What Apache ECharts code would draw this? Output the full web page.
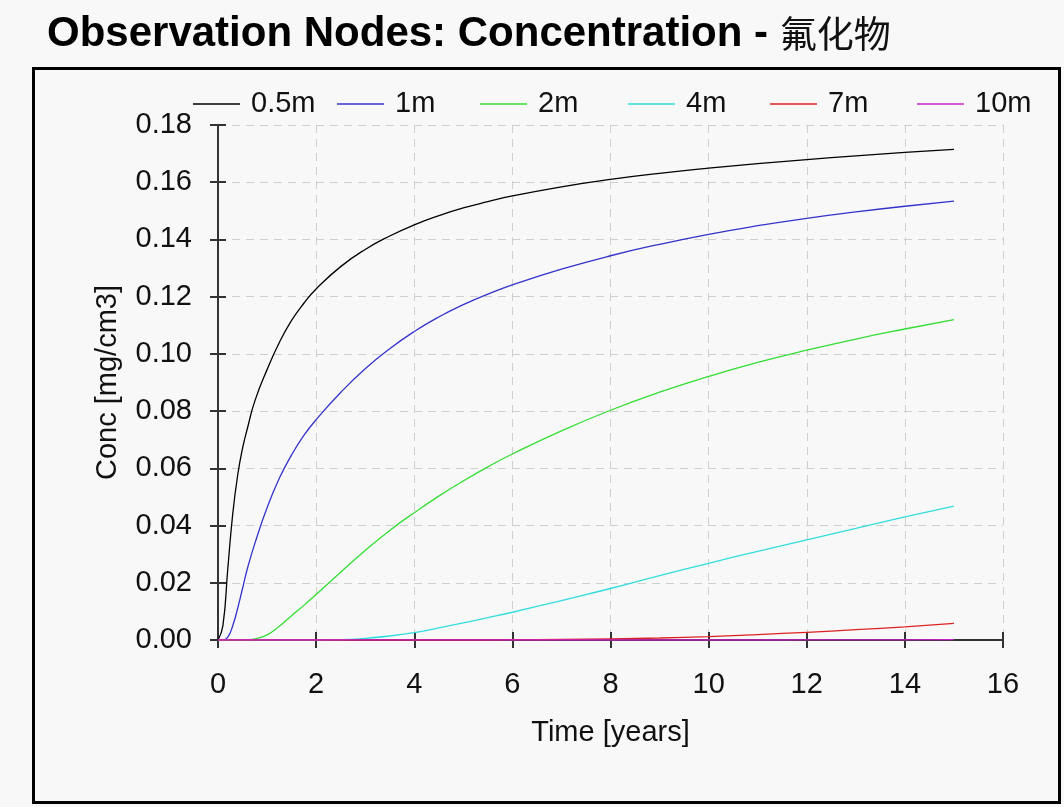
<!DOCTYPE html>
<html>
<head>
<meta charset="utf-8">
<script src="https://cdn.jsdelivr.net/npm/echarts@6/dist/echarts.min.js"></script>
<style>
  html, body { margin: 0; padding: 0; background: #f8f8f8; }
  #chart { width: 1064px; height: 807px; }
</style>
</head>
<body>
<div id="chart"></div>
<script>
// Time axis samples (years)
const times = [0, 0.1, 0.2, 0.3, 0.4, 0.5, 0.6, 0.75, 1, 1.25, 1.5, 1.75, 2, 2.5, 3, 3.5, 4, 4.5, 5, 5.5, 6, 7, 8, 9, 10, 11, 12, 13, 14, 15];

// Concentration at each observation node depth (mg/cm3)
const node05m = [0, 0.005, 0.025, 0.044, 0.0575, 0.067, 0.074, 0.0835, 0.0945, 0.104, 0.1117, 0.1177, 0.1227, 0.1305, 0.1365, 0.1412, 0.1451, 0.1483, 0.151, 0.1532, 0.1552, 0.1584, 0.161, 0.1631, 0.1649, 0.1665, 0.1679, 0.1692, 0.1704, 0.1715];
const node1m  = [0, 0, 0.001, 0.005, 0.011, 0.018, 0.025, 0.0337, 0.0462, 0.0565, 0.0647, 0.0715, 0.077, 0.0865, 0.0948, 0.1018, 0.1078, 0.1129, 0.1172, 0.1209, 0.1241, 0.1296, 0.1343, 0.1383, 0.1418, 0.1448, 0.1474, 0.1496, 0.1516, 0.1534];
const node2m  = [0, 0, 0, 0, 0, 0, 0.0001, 0.0004, 0.0018, 0.0048, 0.0085, 0.0121, 0.0159, 0.0237, 0.0313, 0.0383, 0.0445, 0.0503, 0.0556, 0.0605, 0.065, 0.0731, 0.0803, 0.0866, 0.0921, 0.097, 0.1013, 0.1052, 0.1087, 0.112];
const node4m  = [0, 0, 0, 0, 0, 0, 0, 0, 0, 0, 0, 0, 0, 0.0001, 0.0006, 0.0014, 0.0026, 0.0042, 0.006, 0.0078, 0.0097, 0.0138, 0.018, 0.0225, 0.0268, 0.031, 0.035, 0.039, 0.043, 0.0468];
const node7m  = [0, 0, 0, 0, 0, 0, 0, 0, 0, 0, 0, 0, 0, 0, 0, 0, 0, 0, 0, 0, 0.0001, 0.0002, 0.0004, 0.0007, 0.0012, 0.0019, 0.0027, 0.0036, 0.0046, 0.0058];
const node10m = [0, 0, 0, 0, 0, 0, 0, 0, 0, 0, 0, 0, 0, 0, 0, 0, 0, 0, 0, 0, 0, 0, 0, 0, 0, 0, 0.00002, 0.00004, 0.00007, 0.0001];

const seriesNames = ['0.5m', '1m', '2m', '4m', '7m', '10m'];
const seriesValues = [node05m, node1m, node2m, node4m, node7m, node10m];
const seriesColors = ['#000000', '#3333cc', '#33dd33', '#33dddd', '#dd2222', '#cc22cc'];

// Legend entries sit at fixed horizontal slots along the top of the plot
const legendLeft = [193, 337, 480, 628, 770, 917];

const xTicks = { min: 0, max: 16, interval: 2 };
const yTicks = { min: 0, max: 0.18, interval: 0.02 };

const axisColor = '#333333';
const gridColor = '#cfcfcf';
const font = '"Liberation Sans", Arial, sans-serif';

const chart = echarts.init(document.getElementById('chart'), null, { renderer: 'canvas' });

const pairs = v => times.map((t, i) => [t, v[i]]);

const option = {
  backgroundColor: '#f8f8f8',
  animation: false,
  title: {
    left: 47,
    top: 13,
    padding: 0,
    text: '{a|Observation Nodes: Concentration - }{b|氟化物}',
    textStyle: {
      rich: {
        a: { fontFamily: font, fontWeight: 'bold', fontSize: 42, color: '#000', lineHeight: 42 },
        b: { fontFamily: '"Noto Sans CJK SC", sans-serif', fontWeight: 'normal', fontSize: 37, color: '#111', lineHeight: 42 }
      }
    }
  },
  graphic: [{
    type: 'rect',
    z: -1,
    shape: { x: 33.5, y: 68.5, width: 1026, height: 734 },
    style: { fill: 'none', stroke: '#000', lineWidth: 3 }
  }],
  legend: seriesNames.map((name, i) => ({
    data: [{ name, icon: 'rect' }],
    left: legendLeft[i],
    top: 89,
    padding: 0,
    itemWidth: 47,
    itemHeight: 1.5,
    textStyle: { fontFamily: font, fontSize: 29, color: '#111', lineHeight: 30, padding: [0, 0, 0, 6] }
  })),
  grid: { left: 218, right: 61, top: 125, bottom: 167, containLabel: false },
  xAxis: [{
    type: 'value',
    min: xTicks.min, max: xTicks.max, interval: xTicks.interval,
    name: 'Time [years]',
    nameLocation: 'middle',
    nameGap: 79,
    nameTextStyle: { fontFamily: font, fontSize: 29, color: '#111', lineHeight: 28 },
    axisLine: { show: true, lineStyle: { color: axisColor, width: 2 } },
    axisTick: { show: true, length: 8, lineStyle: { color: axisColor, width: 2 } },
    axisLabel: { fontFamily: font, fontSize: 29, color: '#111', margin: 31, lineHeight: 28 },
    splitLine: { show: true, lineStyle: { color: gridColor, width: 1, type: [8, 6] } }
  }, {
    type: 'value',
    position: 'bottom',
    min: xTicks.min, max: xTicks.max, interval: xTicks.interval,
    axisLine: { show: false },
    axisTick: { show: true, inside: true, length: 8, lineStyle: { color: axisColor, width: 2 } },
    axisLabel: { show: false },
    splitLine: { show: false }
  }],
  yAxis: [{
    type: 'value',
    min: yTicks.min, max: yTicks.max, interval: yTicks.interval,
    name: 'Conc [mg/cm3]',
    nameLocation: 'middle',
    nameRotate: 90,
    nameGap: 96,
    nameTextStyle: { fontFamily: font, fontSize: 29, color: '#111', lineHeight: 29 },
    axisLine: { show: true, lineStyle: { color: axisColor, width: 2 } },
    axisTick: { show: true, length: 8, lineStyle: { color: axisColor, width: 2 } },
    axisLabel: { fontFamily: font, fontSize: 29, color: '#111', margin: 26, formatter: v => v.toFixed(2) },
    splitLine: { show: true, lineStyle: { color: gridColor, width: 1, type: [8, 6] } }
  }, {
    type: 'value',
    position: 'left',
    min: yTicks.min, max: yTicks.max, interval: yTicks.interval,
    axisLine: { show: false },
    axisTick: { show: true, inside: true, length: 8, lineStyle: { color: axisColor, width: 2 } },
    axisLabel: { show: false },
    splitLine: { show: false }
  }],
  series: seriesNames.map((name, i) => ({
    name,
    type: 'line',
    xAxisIndex: 0,
    yAxisIndex: 0,
    data: pairs(seriesValues[i]),
    showSymbol: false,
    symbol: 'none',
    smooth: 0.5,
    color: seriesColors[i],
    lineStyle: { color: seriesColors[i], width: 1.3 }
  }))
};

chart.setOption(option);
</script>
</body>
</html>
